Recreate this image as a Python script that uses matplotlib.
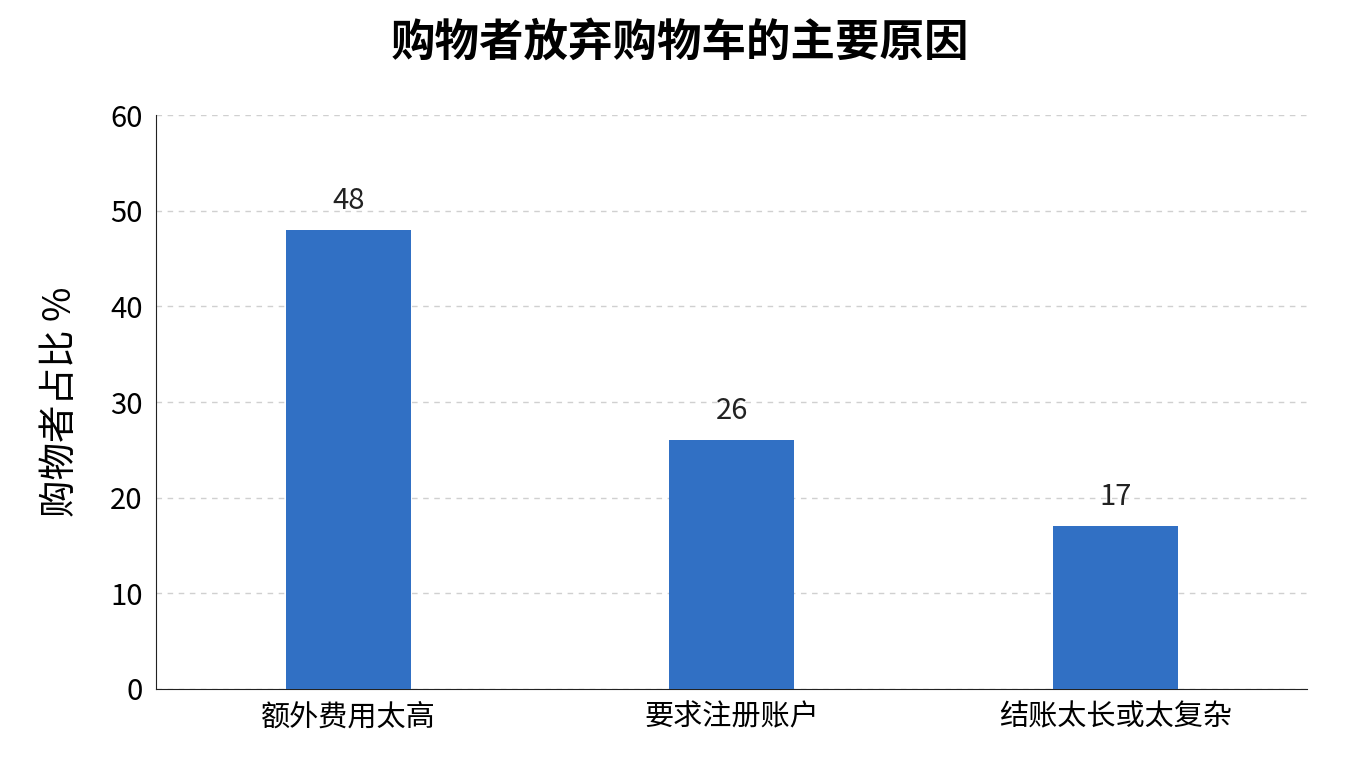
import matplotlib
matplotlib.use("Agg")
import matplotlib.pyplot as plt

plt.rcParams['font.family'] = ['Noto Sans CJK SC', 'DejaVu Sans']

categories = ["额外费用太高", "要求注册账户", "结账太长或太复杂"]
values = [48, 26, 17]

fig = plt.figure(figsize=(13.6, 7.68), dpi=100)
ax = fig.add_axes([0.115, 0.103, 0.846, 0.747])
x = range(len(categories))
bars = ax.bar(x, values, width=0.326, color="#3170C4", zorder=3)
for xi, v in zip(x, values):
    ax.text(xi, v + 1.5, str(v), ha="center", va="bottom", fontsize=21, color="#222222")
ax.set_xlim(-0.5, 2.5)
ax.set_ylim(0, 60)
ax.set_yticks(range(0, 61, 10))
ax.set_xticks(list(x))
ax.set_xticklabels(categories, fontsize=21)
ax.tick_params(axis='y', labelsize=21, length=0, pad=10)
ax.tick_params(axis='x', length=0, pad=10)
ax.grid(axis='y', linestyle=(0, (4, 4)), color="#d0d0d0", linewidth=1, zorder=0)
for s in ["top", "right"]:
    ax.spines[s].set_visible(False)
ax.spines["left"].set_color("#222222")
ax.spines["bottom"].set_color("#222222")
ax.set_ylabel("购物者占比 %", fontsize=27, labelpad=22)
fig.suptitle("购物者放弃购物车的主要原因", fontsize=32, fontweight="bold", y=0.975)
fig.savefig("out.png", dpi=100, facecolor="white")
